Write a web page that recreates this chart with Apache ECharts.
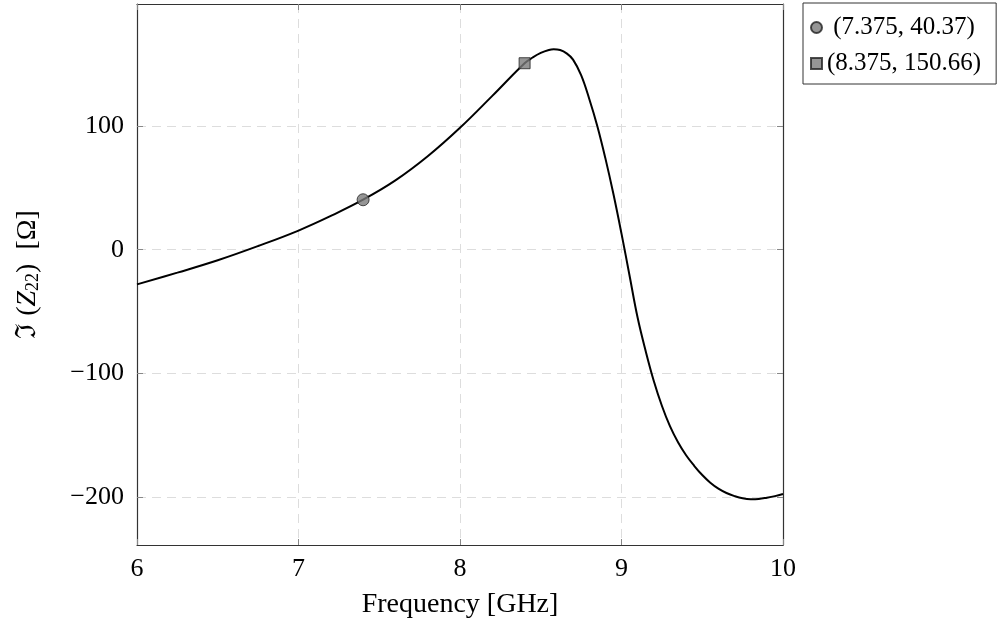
<!DOCTYPE html>
<html>
<head>
<meta charset="utf-8">
<script src="https://cdn.jsdelivr.net/npm/echarts@6/dist/echarts.min.js"></script>
<style>
  html, body { margin: 0; padding: 0; background: #fff; }
  #chart { width: 998px; height: 628px; }
</style>
</head>
<body>
<div id="chart"></div>
<script>
// 曲线数据
const freq = [6, 6.25, 6.5, 6.75, 7, 7.2, 7.4, 7.6, 7.8, 8.0, 8.2, 8.4, 8.45, 8.5, 8.55, 8.58, 8.62, 8.66, 8.7, 8.75, 8.8, 8.85, 8.9, 8.95, 9.0, 9.05, 9.1, 9.15, 9.2, 9.25, 9.3, 9.35, 9.4, 9.45, 9.5, 9.55, 9.6, 9.65, 9.7, 9.75, 9.8, 9.85, 9.9, 9.95, 10];
const imZ22 = [-28, -18.5, -8.5, 3, 15.5, 27.3, 40.4, 56, 75.5, 98.5, 124.3, 150.7, 155.3, 159, 161.4, 162, 161.3, 158.6, 153.6, 141, 122, 100, 74, 45, 13, -21, -55, -82, -106, -126, -142.5, -155.5, -166, -174.5, -182, -188.2, -193, -196.5, -199, -200.8, -201.5, -201.3, -200.3, -199, -197.3];

// 标记点
const markerCircle = [7.40, 40.37];
const markerSquare = [8.40, 150.66];
const legendNames = ['(7.375, 40.37)', '(8.375, 150.66)'];

// 刻度
const xTicks = [6, 7, 8, 9, 10];
const yTicks = [-200, -100, 0, 100];

const chart = echarts.init(document.getElementById('chart'));
const serif = '"Liberation Serif", "DejaVu Serif", serif';
const fmt = v => (v < 0 ? '\u2212' + Math.abs(v) : String(v));

const tickStyle = { inside: true, length: 6, lineStyle: { color: '#888', width: 1 } };
const lineStyleAxis = { show: true, onZero: false, lineStyle: { color: '#333', width: 1.2 } };
const gridLine = { show: true, lineStyle: { color: '#ddd', type: [9, 6], width: 1 } };

const option = {
    animation: false,
    backgroundColor: '#fff',
    grid: { left: 137, right: 215, top: 4, bottom: 83 },
    legend: {
        orient: 'vertical',
        left: 803,
        top: 3,
        borderColor: '#333',
        borderWidth: 1,
        padding: [12, 15, 8, 7],
        itemGap: 11,
        itemWidth: 11,
        itemHeight: 11,
        textStyle: { fontFamily: serif, fontSize: 25, color: '#000' },
        formatter: name => (name === legendNames[0] ? ' ' + name : name),
        data: [
            { name: legendNames[0], icon: 'circle' },
            { name: legendNames[1], icon: 'rect' }
        ]
    },
    xAxis: [{
        type: 'value', min: xTicks[0], max: xTicks[xTicks.length - 1], interval: 1,
        name: 'Frequency [GHz]', nameLocation: 'middle', nameGap: 46,
        nameTextStyle: { fontFamily: serif, fontSize: 28, color: '#000' },
        axisLine: lineStyleAxis,
        axisTick: tickStyle,
        axisLabel: { fontFamily: serif, fontSize: 26, color: '#000', margin: 11 },
        splitLine: gridLine
    }, {
        type: 'value', min: xTicks[0], max: xTicks[xTicks.length - 1], interval: 1, position: 'top',
        axisLine: lineStyleAxis, axisTick: tickStyle,
        axisLabel: { show: false }, splitLine: { show: false }
    }],
    yAxis: [{
        type: 'value', min: -238.5, max: 198.5,
        name: '{a|\u2111 (}{i|Z}{s|22}{a|)  [\u03a9]}', nameLocation: 'middle', nameGap: 95,
        nameTextStyle: {
            fontFamily: serif, fontSize: 28, color: '#000',
            rich: {
                a: { fontFamily: serif, fontSize: 28, color: '#000' },
                i: { fontFamily: serif, fontSize: 28, fontStyle: 'italic', color: '#000' },
                s: { fontFamily: serif, fontSize: 18, color: '#000', padding: [10, 0, 0, 0] }
            }
        },
        axisLine: lineStyleAxis,
        axisTick: Object.assign({ customValues: yTicks }, tickStyle),
        axisLabel: { customValues: yTicks, fontFamily: serif, fontSize: 26, color: '#000', margin: 13, formatter: fmt },
        splitLine: gridLine
    }, {
        type: 'value', min: -238.5, max: 198.5, position: 'right',
        axisLine: lineStyleAxis,
        axisTick: Object.assign({ customValues: yTicks }, tickStyle),
        axisLabel: { show: false }, splitLine: { show: false }
    }],
    series: [{
        type: 'line',
        data: freq.map((f, i) => [f, imZ22[i]]),
        smooth: 0.4,
        showSymbol: false,
        lineStyle: { color: '#000', width: 2 },
        z: 2
    }, {
        name: legendNames[0],
        type: 'scatter',
        data: [markerCircle],
        symbol: 'circle',
        symbolSize: 12,
        itemStyle: { color: '#7a7a7a', borderColor: '#222', borderWidth: 1 },
        z: 3
    }, {
        name: legendNames[1],
        type: 'scatter',
        data: [markerSquare],
        symbol: 'rect',
        symbolSize: 11,
        itemStyle: { color: '#7a7a7a', borderColor: '#222', borderWidth: 1 },
        z: 3
    }]
};

chart.setOption(option);
window.addEventListener('resize', chart.resize);
</script>
</body>
</html>
